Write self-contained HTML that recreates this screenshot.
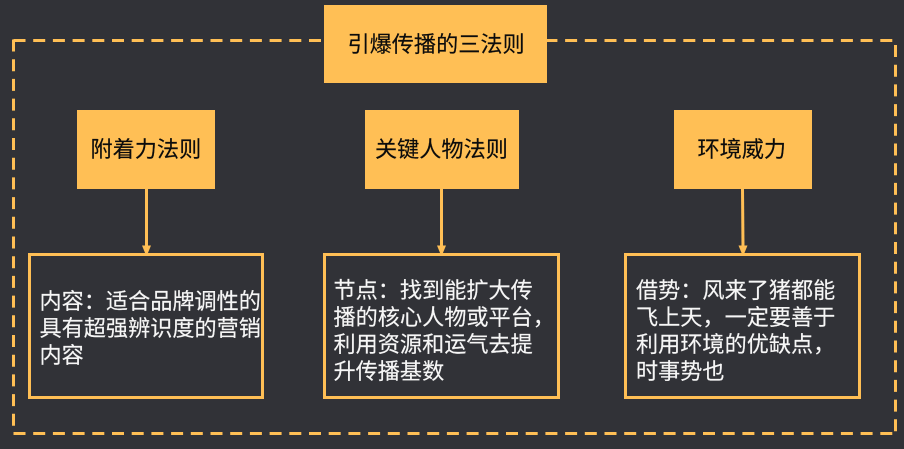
<!DOCTYPE html>
<html><head><meta charset="utf-8"><style>
html,body{margin:0;padding:0;background:#313237;width:904px;height:449px;overflow:hidden}
svg{display:block}
text{font-family:"Liberation Sans","WenQuanYi Zen Hei","Noto Sans CJK SC",sans-serif;font-size:22.15px}
.k{fill:#0c0c0c;stroke:#0c0c0c;stroke-width:.15px}.w{fill:#f6f6f6;stroke:#f6f6f6;stroke-width:.15px}
</style></head><body>
<svg width="904" height="449" viewBox="0 0 904 449" xmlns="http://www.w3.org/2000/svg">
<rect width="904" height="449" fill="#313237"/>
<g fill="none" stroke="#ffbf55" stroke-width="3" stroke-dasharray="12 7.7">
<path d="M13.5 40.5H895.5V433.5"/>
<path d="M13.5 39.5V433.5H895.5"/>
</g>
<rect x="324" y="5" width="223" height="78" fill="#ffbf55"/>
<rect x="77" y="110" width="138" height="79" fill="#ffbf55"/>
<rect x="365" y="110" width="154" height="79" fill="#ffbf55"/>
<rect x="674" y="110" width="138" height="79" fill="#ffbf55"/>
<g stroke="#ffbf55" stroke-width="3" fill="none">
<path d="M146.5 189V247"/><path d="M441.5 189V247"/><path d="M742.5 189L743 247"/>
</g>
<g fill="#ffbf55">
<path d="M142 245.5H151L147.5 254H145.5Z"/><path d="M437 245.5H446L442.5 254H440.5Z"/><path d="M738.5 245.5H747.5L744 254H742Z"/>
</g>
<g fill="none" stroke="#ffbf55" stroke-width="3">
<rect x="29.5" y="254.5" width="233" height="143"/>
<rect x="324.5" y="254.5" width="234" height="143"/>
<rect x="625.5" y="254.5" width="234" height="143"/>
</g>
<text class="k" x="347.5" y="52">引爆传播的三法则</text>
<text class="k" x="90.5" y="157">附着力法则</text>
<text class="k" x="375" y="157">关键人物法则</text>
<text class="k" x="697.5" y="157">环境威力</text>
<text class="w" x="39.5" y="309">内容：适合品牌调性的</text>
<text class="w" x="39.5" y="336">具有超强辨识度的营销</text>
<text class="w" x="39.5" y="363">内容</text>
<text class="w" x="333.5" y="298">节点：找到能扩大传</text>
<text class="w" x="333.5" y="325">播的核心人物或平台，</text>
<text class="w" x="333.5" y="352">利用资源和运气去提</text>
<text class="w" x="333.5" y="379">升传播基数</text>
<text class="w" x="636" y="298">借势：风来了猪都能</text>
<text class="w" x="636" y="325">飞上天，一定要善于</text>
<text class="w" x="636" y="352">利用环境的优缺点，</text>
<text class="w" x="636" y="379">时事势也</text>
</svg>
</body></html>
